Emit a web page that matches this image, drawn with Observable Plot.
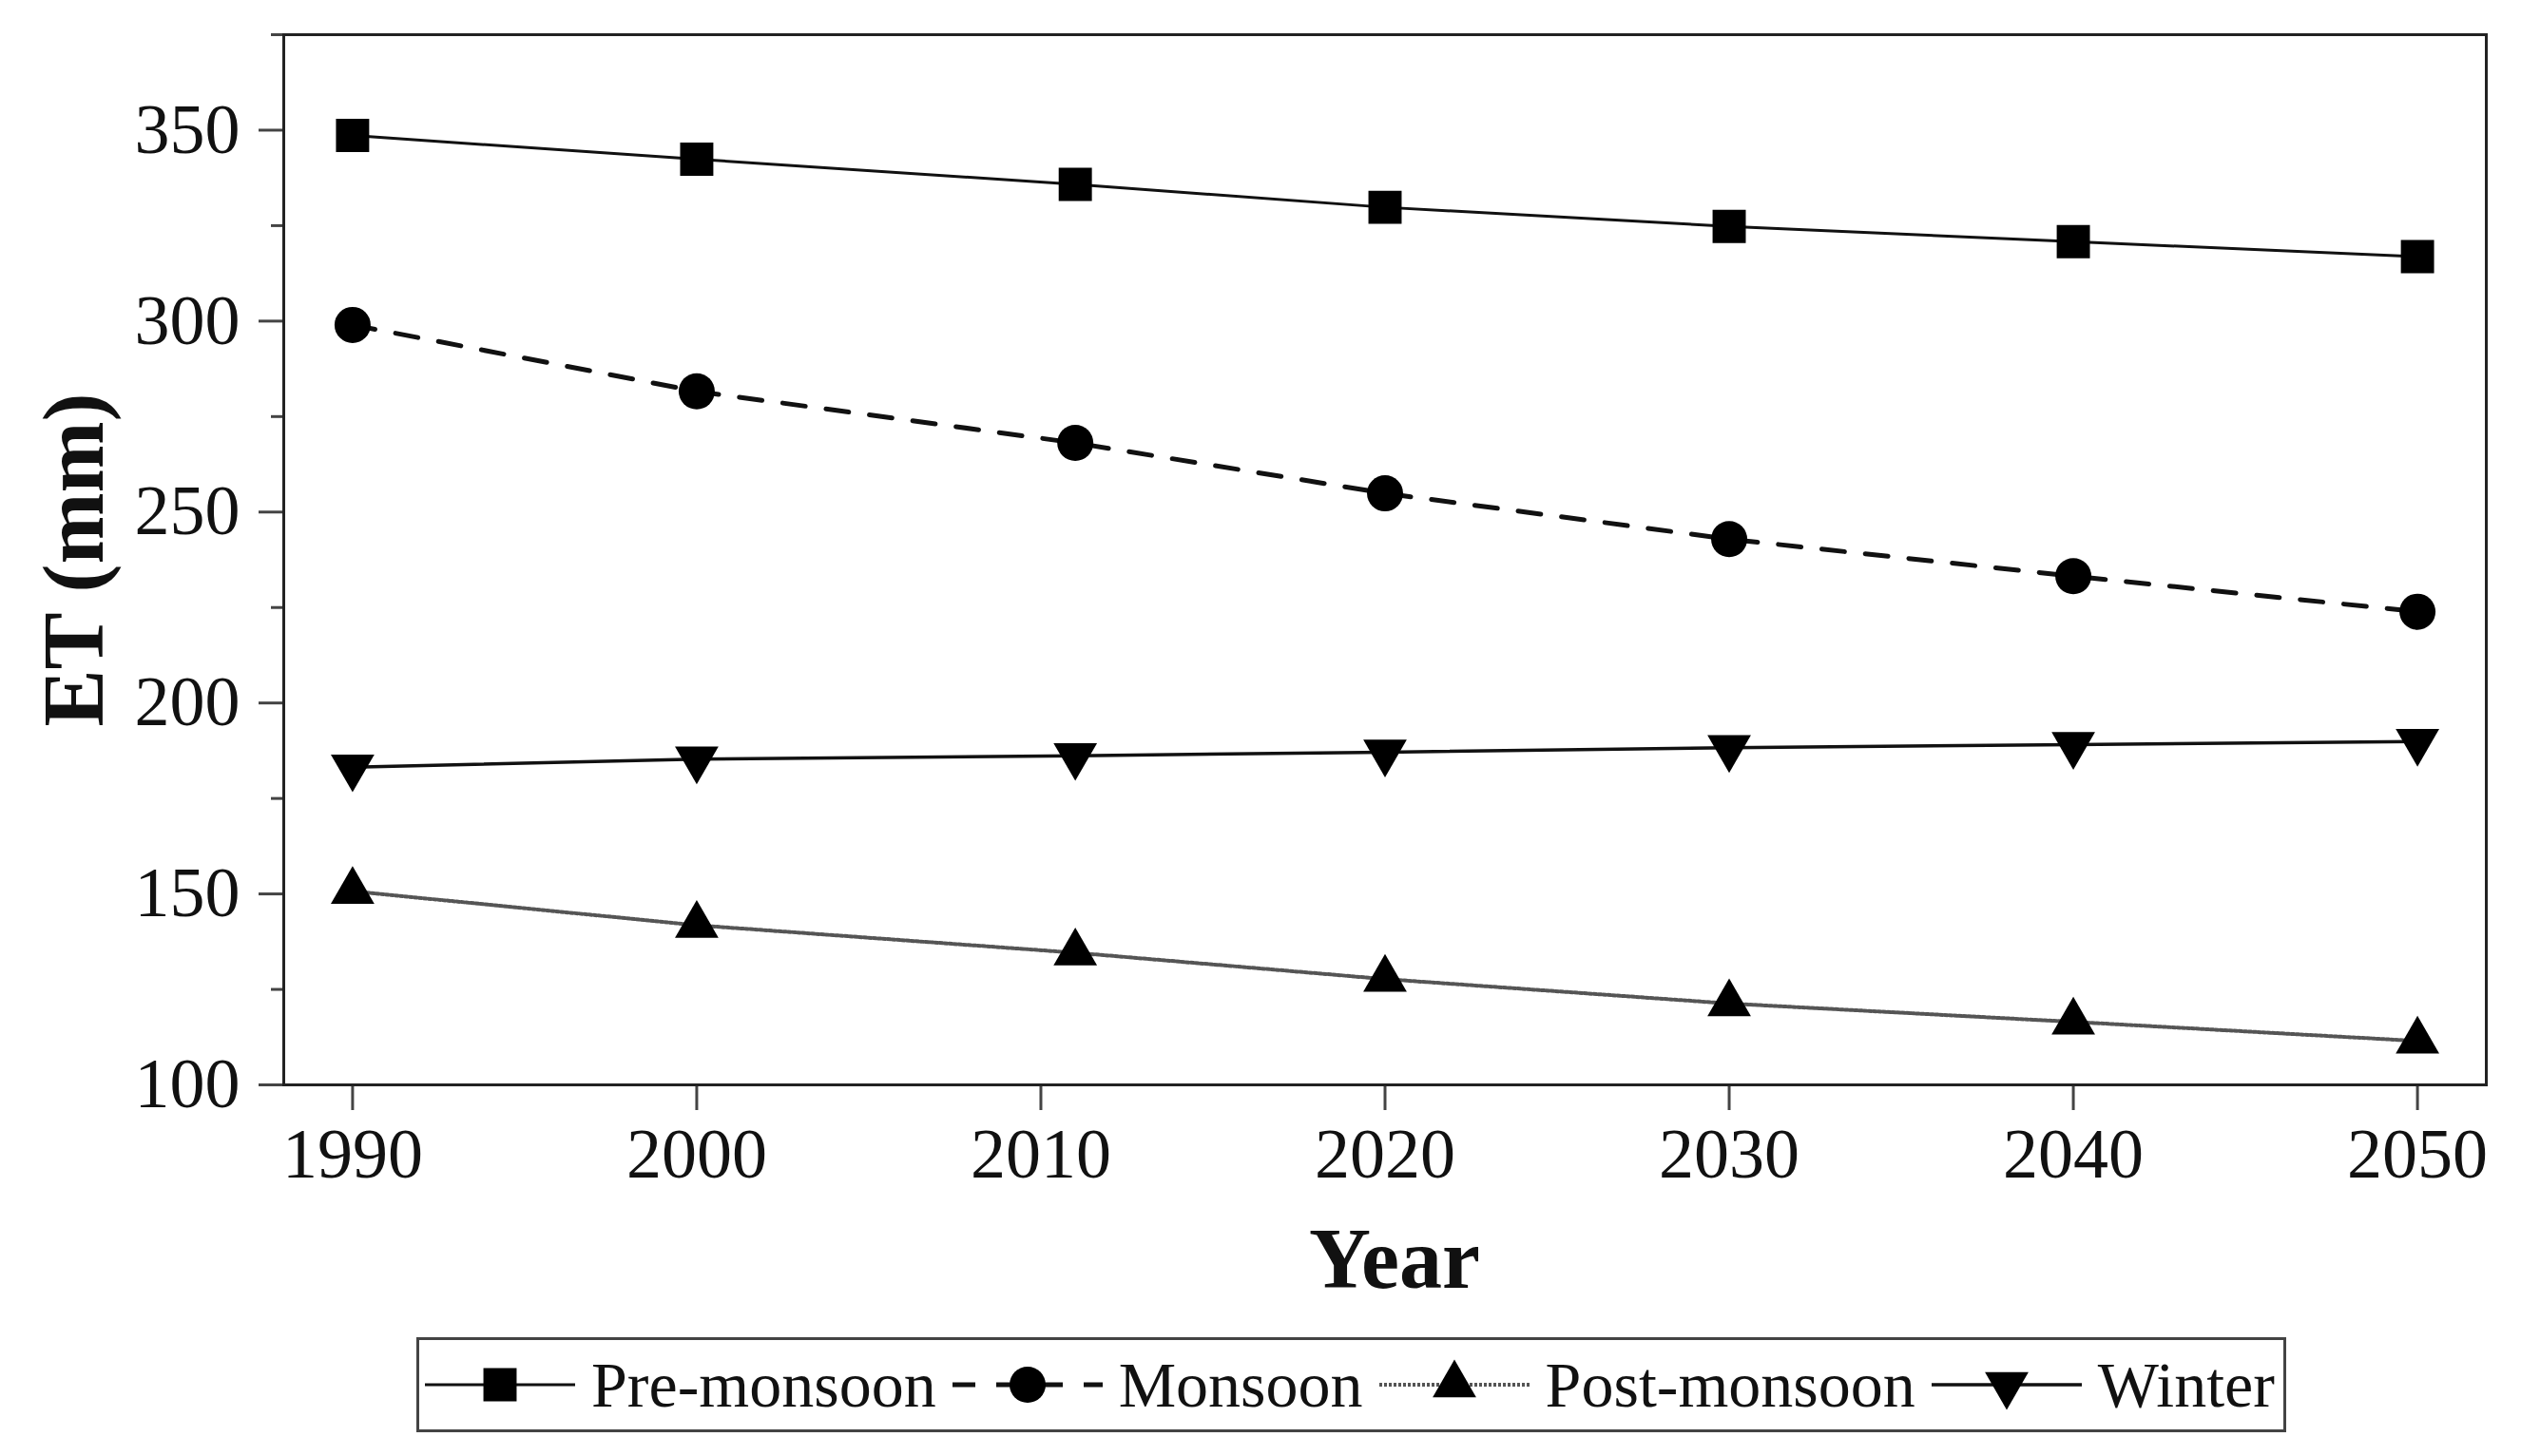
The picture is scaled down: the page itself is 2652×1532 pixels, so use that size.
<!DOCTYPE html>
<html>
<head>
<meta charset="utf-8">
<script src="https://cdn.jsdelivr.net/npm/d3@7"></script>
<script src="https://cdn.jsdelivr.net/npm/@observablehq/plot@0.6"></script>
<style>
  html, body { margin: 0; padding: 0; background: #fff; }
  #chart svg { display: block; }
  #legend {
    margin-left: 438px;
    margin-top: 12px;
    width: 1967px;
    height: 100px;
    box-sizing: border-box;
    border: 3px solid #444;
    display: flex;
    align-items: center;
    padding-left: 6px;
    font-family: "Liberation Serif", "Times New Roman", serif;
    font-size: 68px;
    color: #111;
    white-space: nowrap;
    overflow: hidden;
  }
  #legend .item { display: flex; align-items: center; flex: 0 0 auto; }
  #legend .item svg { display: block; flex: 0 0 auto; }
  #legend .label { margin-left: 17px; margin-right: 17px; line-height: 1; white-space: nowrap; }
</style>
</head>
<body>
<div id="chart"></div>
<div id="legend"></div>
<script>
// ---- data ----
const years = [1990, 2000, 2011, 2020, 2030, 2040, 2050];
const preMonsoon  = [348.6, 342.4, 335.8, 329.8, 324.8, 320.8, 316.9];
const monsoon     = [299.0, 281.6, 268.1, 254.9, 242.9, 233.2, 223.9];
const postMonsoon = [150.7, 141.8, 134.6, 127.7, 121.3, 116.5, 111.5];
const winter      = [183.2, 185.3, 186.2, 187.1, 188.3, 189.1, 189.9];

const seriesNames = ["Pre-monsoon", "Monsoon", "Post-monsoon", "Winter"];
const xTicks = [1990, 2000, 2010, 2020, 2030, 2040, 2050];
const yTicks = [100, 150, 200, 250, 300, 350];
const yMinorTicks = [125, 175, 225, 275, 325, 375];
const xDomain = [1988, 2052];
const yDomain = [100, 375];
const xLabel = "Year";
const yLabel = "ET (mm)";

// ---- styles per series ----
const styles = {
  "Pre-monsoon":  {stroke: "#111", strokeWidth: 3, dash: null, symbol: "square", r: 19.7, rotate: 0},
  "Monsoon":      {stroke: "#111", strokeWidth: 5, dash: "24,22", symbol: "circle", r: 19, rotate: 0},
  "Post-monsoon": {stroke: "#555", strokeWidth: 4, dash: "3,2", symbol: "triangle", r: 17, rotate: 0},
  "Winter":       {stroke: "#111", strokeWidth: 3.5, dash: null, symbol: "triangle", r: 17, rotate: 180}
};

const valuesBySeries = {
  "Pre-monsoon": preMonsoon,
  "Monsoon": monsoon,
  "Post-monsoon": postMonsoon,
  "Winter": winter
};

const rows = seriesNames.flatMap(name =>
  years.map((year, i) => ({series: name, year, et: valuesBySeries[name][i]}))
);

const lineMarks = seriesNames.map(name => {
  const s = styles[name];
  return Plot.line(rows.filter(d => d.series === name), {
    x: "year", y: "et", stroke: s.stroke, strokeWidth: s.strokeWidth,
    strokeDasharray: s.dash
  });
});
const dotMarks = seriesNames.map(name => {
  const s = styles[name];
  return Plot.dot(rows.filter(d => d.series === name), {
    x: "year", y: "et", symbol: s.symbol, r: s.r, fill: "#000", stroke: "none",
    rotate: s.rotate
  });
});

const W = 2652, H = 1395;
const chart = Plot.plot({
  width: W,
  height: H,
  marginLeft: 298,
  marginRight: 37,
  marginTop: 36,
  marginBottom: H - 1141,
  style: {fontFamily: "'Liberation Serif', 'Times New Roman', serif", color: "#111", background: "#fff", overflow: "visible"},
  x: {domain: xDomain},
  y: {domain: yDomain},
  marks: [
    Plot.axisY(yMinorTicks, {tickSize: 13, strokeWidth: 3, stroke: "#444", tickFormat: () => "", label: null}),
    Plot.axisY(yTicks, {tickSize: 26, tickPadding: 20, strokeWidth: 3, stroke: "#444", fontSize: 74, tickFormat: d => String(d), label: null}),
    Plot.axisX(xTicks, {tickSize: 27, tickPadding: 18, strokeWidth: 3, stroke: "#444", fontSize: 74, tickFormat: d => String(d), label: null}),
    ...lineMarks,
    ...dotMarks,
    Plot.frame({stroke: "#222", strokeWidth: 3}),
    Plot.text([xLabel], {text: d => d, frameAnchor: "bottom", textAnchor: "middle", dx: 10, dy: 213, lineAnchor: "bottom", fontSize: 90, fontWeight: "bold"}),
    Plot.text([yLabel], {text: d => d, frameAnchor: "left", textAnchor: "middle", dx: -191, rotate: -90, lineAnchor: "bottom", fontSize: 90, fontWeight: "bold"})
  ]
});
document.getElementById("chart").appendChild(chart);

// ---- legend (HTML below the SVG) ----
const legend = d3.select("#legend");
const symbolTypes = {square: d3.symbolSquare, circle: d3.symbolCircle, triangle: d3.symbolTriangle};
seriesNames.forEach(name => {
  const s = styles[name];
  const item = legend.append("div").attr("class", "item");
  const sw = 158, sh = 60;
  const svg = item.append("svg").attr("width", sw).attr("height", sh);
  svg.append("line")
    .attr("x1", 0).attr("x2", sw).attr("y1", sh / 2).attr("y2", sh / 2)
    .attr("stroke", s.stroke).attr("stroke-width", s.strokeWidth)
    .attr("stroke-dasharray", s.dash);
  svg.append("path")
    .attr("d", d3.symbol(symbolTypes[s.symbol], Math.PI * s.r * s.r)())
    .attr("transform", `translate(${sw / 2},${sh / 2}) rotate(${s.rotate})`)
    .attr("fill", "#000");
  item.append("span").attr("class", "label").text(name);
});
</script>
</body>
</html>
